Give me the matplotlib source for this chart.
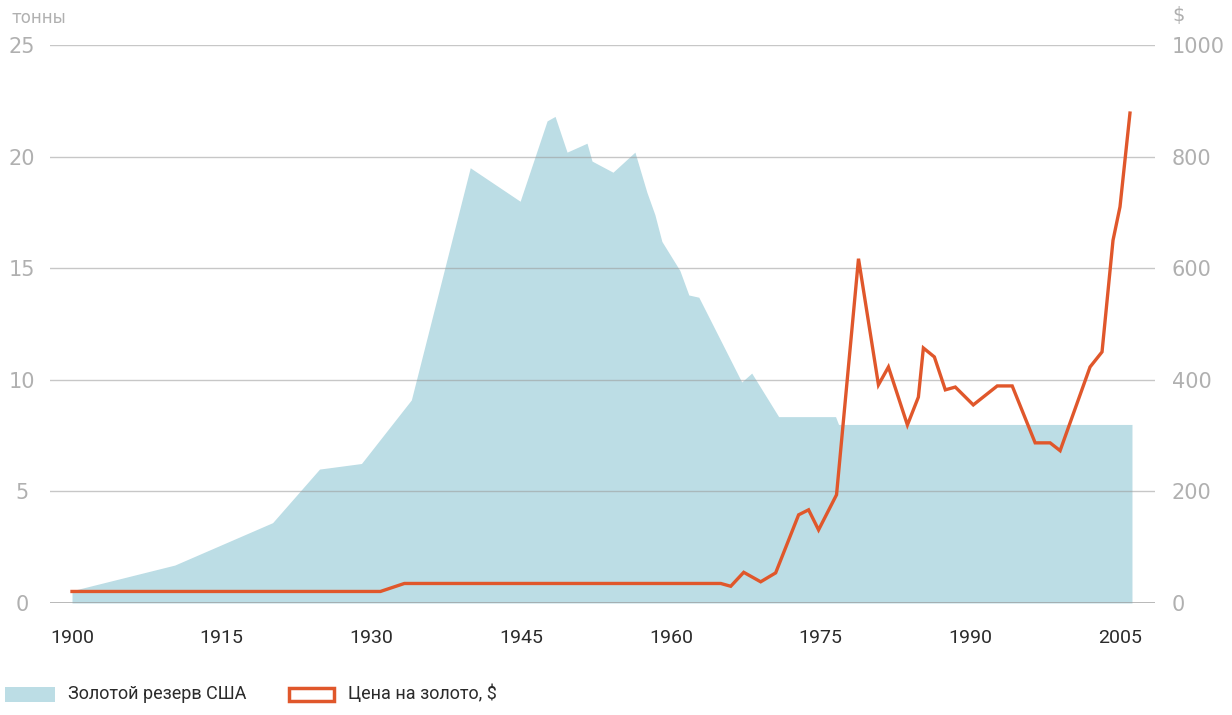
import matplotlib
matplotlib.use("Agg")
import matplotlib.pyplot as plt
from matplotlib.patches import Rectangle

# ---- data ----
reserve_years = [1900, 1910.3, 1920.1, 1924.8, 1929, 1934, 1939.9, 1944.9, 1947.6, 1948.4,
                 1949.6, 1951.6, 1952.1, 1954.2, 1956.4, 1957.6, 1958.4, 1959.1,
                 1960.9, 1961.8, 1962.8, 1967.1, 1968.1, 1970.8, 1976.5, 1976.8, 2006.2]
reserve_tonnes = [0.55, 1.7, 3.6, 6.0, 6.25, 9.1, 19.5, 18.0, 21.6, 21.8,
                  20.2, 20.6, 19.8, 19.3, 20.2, 18.4, 17.4, 16.2,
                  14.9, 13.8, 13.7, 9.9, 10.3, 8.35, 8.35, 8.0, 8.0]

price_years = [1900, 1930.9, 1933.3, 1965, 1966, 1967.3, 1969, 1970.5, 1972.8, 1973.8,
               1974.8, 1976.6, 1978.8, 1980.8, 1981.8, 1983.7, 1984.8, 1985.3, 1986.4,
               1987.5, 1988.5, 1990.3, 1992.7, 1994.2, 1996.5, 1998, 1999, 2002,
               2003.2, 2004.3, 2005, 2006]
price_usd = [20.67, 20.67, 35, 35, 30, 55, 38, 54, 158, 167,
             131, 194, 617, 391, 423, 319, 369, 457, 441,
             382, 387, 355, 389, 389, 287, 287, 273, 423,
             450, 650, 710, 878]

x_ticks = [1900, 1915, 1930, 1945, 1960, 1975, 1990, 2005]
left_ticks = [0, 5, 10, 15, 20, 25]
right_ticks = [0, 200, 400, 600, 800, 1000]

left_unit = "тонны"
right_unit = "$"
legend_labels = ["Золотой резерв США", "Цена на золото, $"]

# ---- styling ----
FILL = "#bcdde5"
LINE = "#e0572b"
GRID = "#9a9a9a"
YLAB = "#b0b0b0"
FONT = ["Roboto", "DejaVu Sans"]
YFONT = ["DejaVu Sans"]

W, H = 1232, 715
fig = plt.figure(figsize=(W / 100, H / 100), dpi=100)
fig.patch.set_facecolor("white")

left_px, right_px, top_px, bot_px = 50, 1155, 45, 603
ax = fig.add_axes([left_px / W, 1 - bot_px / H, (right_px - left_px) / W, (bot_px - top_px) / H])
ax.set_xlim(1900 - 22 / 9.98, 2005 + 35 / 9.98)
ax.set_ylim(0, 25)

ax.fill_between(reserve_years, reserve_tonnes, 0, color=FILL, lw=0, zorder=1)

for v in left_ticks:
    ax.axhline(v, color=GRID, lw=1.3 if v == 0 else 1.0, alpha=0.55 if v else 0.75, zorder=2)

ax2 = ax.twinx()
ax2.set_ylim(0, 1000)
ax2.plot(price_years, price_usd, color=LINE, lw=2.4, zorder=3, solid_joinstyle="miter")

for a in (ax, ax2):
    for s in a.spines.values():
        s.set_visible(False)
    a.tick_params(length=0)

ax.set_xticks(x_ticks)
ax.set_xticklabels([str(t) for t in x_ticks], family=FONT, fontsize=14, color="#2b2b2b")
ax.tick_params(axis="x", pad=19)

ax.set_yticks(left_ticks)
ax.set_yticklabels([str(t) for t in left_ticks], family=YFONT, fontsize=15, color=YLAB, ha="center")
ax.tick_params(axis="y", pad=20)

ax2.set_yticks(right_ticks)
ax2.set_yticklabels([str(t) for t in right_ticks], family=YFONT, fontsize=15, color=YLAB)
ax2.tick_params(axis="y", pad=12)

fig.text(12 / W, 1 - 18 / H, left_unit, family=YFONT, fontsize=12, color=YLAB, va="center", ha="left")
fig.text(1172 / W, 1 - 16 / H, right_unit, family=YFONT, fontsize=14, color=YLAB, va="center", ha="left")

# ---- legend ----
fig.patches.append(Rectangle((5 / W, 1 - 702 / H), 50 / W, 15 / H, transform=fig.transFigure,
                             facecolor=FILL, edgecolor="none"))
fig.text(68 / W, 1 - 694 / H, legend_labels[0], family=FONT, fontsize=13, color="#2b2b2b", va="center")
fig.patches.append(Rectangle((289 / W, 1 - 701 / H), 45 / W, 13 / H, transform=fig.transFigure,
                             facecolor="white", edgecolor=LINE, lw=2.5))
fig.text(348 / W, 1 - 694 / H, legend_labels[1], family=FONT, fontsize=13, color="#2b2b2b", va="center")

fig.savefig("out.png", dpi=100, facecolor="white")
